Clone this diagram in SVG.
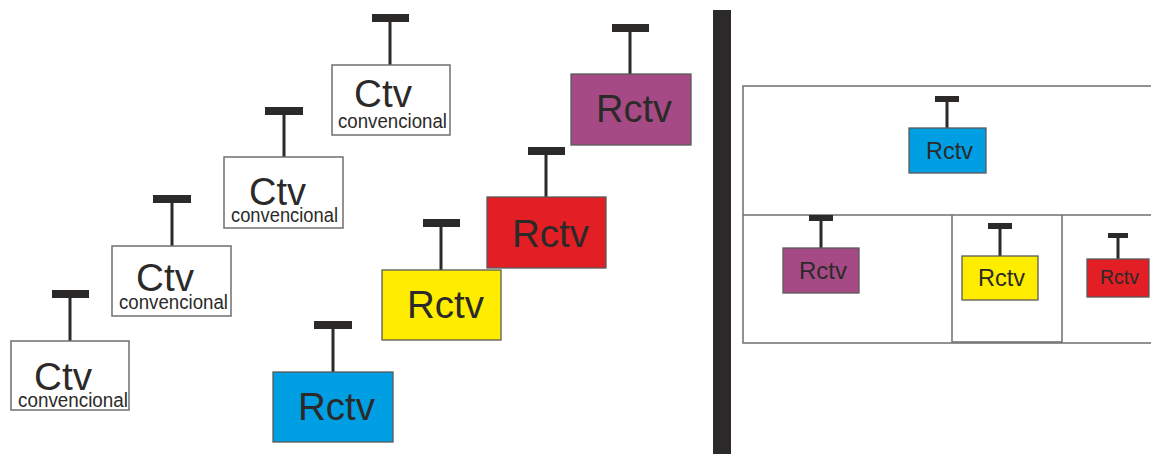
<svg xmlns="http://www.w3.org/2000/svg" width="1151" height="454" viewBox="0 0 1151 454">
<style>
.bar{fill:#2b2a29}
.stem{stroke:#2b2a29;stroke-width:3;fill:none}
.ctv{fill:#fff;stroke:#6f6f6f;stroke-width:1.5}
.rc{stroke:#5a5a5a;stroke-width:1.3}
.t{font-family:"Liberation Sans",Arial,sans-serif;fill:#2b2a29}
.big{font-size:39px}
.sm{font-size:19.5px}
.line{stroke:#6f6f6f;stroke-width:1.5;fill:none}
</style>
<rect width="1151" height="454" fill="#fff"/>
<g id="ctv1">
<rect class="bar" x="52" y="290" width="37" height="8"/>
<line class="stem" x1="70" y1="298" x2="70" y2="341"/>
<rect class="ctv" x="11" y="341" width="118" height="69"/>
<text class="t big" x="34" y="390" textLength="58" lengthAdjust="spacingAndGlyphs">Ctv</text>
<text class="t sm" x="18" y="407" textLength="110" lengthAdjust="spacingAndGlyphs">convencional</text>
</g>
<g id="ctv2">
<rect class="bar" x="153" y="195" width="38" height="8"/>
<line class="stem" x1="172" y1="203" x2="172" y2="246"/>
<rect class="ctv" x="112" y="246" width="119" height="70"/>
<text class="t big" x="136" y="291" textLength="58" lengthAdjust="spacingAndGlyphs">Ctv</text>
<text class="t sm" x="119" y="309" textLength="109" lengthAdjust="spacingAndGlyphs">convencional</text>
</g>
<g id="ctv3">
<rect class="bar" x="265" y="107" width="38" height="8"/>
<line class="stem" x1="284" y1="115" x2="284" y2="157"/>
<rect class="ctv" x="224" y="157" width="119" height="71"/>
<text class="t big" x="249" y="205" textLength="57" lengthAdjust="spacingAndGlyphs">Ctv</text>
<text class="t sm" x="231" y="222" textLength="107" lengthAdjust="spacingAndGlyphs">convencional</text>
</g>
<g id="ctv4">
<rect class="bar" x="372" y="14" width="37" height="8"/>
<line class="stem" x1="390" y1="22" x2="390" y2="65"/>
<rect class="ctv" x="332" y="65" width="118" height="70"/>
<text class="t big" x="354" y="107" textLength="58" lengthAdjust="spacingAndGlyphs">Ctv</text>
<text class="t sm" x="338" y="128" textLength="109" lengthAdjust="spacingAndGlyphs">convencional</text>
</g>
<g id="rctv-blue">
<rect class="bar" x="314" y="321" width="38" height="8"/>
<line class="stem" x1="333" y1="329" x2="333" y2="372"/>
<rect class="rc" x="273" y="372" width="120" height="70" fill="#009fe3"/>
<text class="t" x="298" y="420" font-size="39" textLength="77" lengthAdjust="spacingAndGlyphs">Rctv</text>
</g>
<g id="rctv-yellow">
<rect class="bar" x="423" y="219" width="37" height="8"/>
<line class="stem" x1="441" y1="227" x2="441" y2="270"/>
<rect class="rc" x="382" y="270" width="119" height="70" fill="#ffed00"/>
<text class="t" x="407" y="318" font-size="39" textLength="77" lengthAdjust="spacingAndGlyphs">Rctv</text>
</g>
<g id="rctv-red">
<rect class="bar" x="528" y="147" width="37" height="8"/>
<line class="stem" x1="546" y1="155" x2="546" y2="197"/>
<rect class="rc" x="487" y="197" width="119" height="71" fill="#e31e24"/>
<text class="t" x="512" y="247" font-size="39" textLength="77" lengthAdjust="spacingAndGlyphs">Rctv</text>
</g>
<g id="rctv-purple">
<rect class="bar" x="612" y="24" width="37" height="8"/>
<line class="stem" x1="630" y1="32" x2="630" y2="74"/>
<rect class="rc" x="571" y="74" width="120" height="71" fill="#a64a86"/>
<text class="t" x="596" y="122" font-size="39" textLength="76" lengthAdjust="spacingAndGlyphs">Rctv</text>
</g>
<g id="divider">
<rect x="713" y="10" width="18" height="444" fill="#2b2a29"/>
</g>
<g id="panel">
<polyline class="line" points="1151,86 743,86 743,343 1151,343"/>
<line class="line" x1="743" y1="215" x2="1151" y2="215"/>
<polyline class="line" points="952,215 952,342 1062,342 1062,215"/>
</g>
<g id="s-blue">
<rect class="bar" x="935" y="96" width="24" height="6"/>
<line class="stem" x1="947" y1="102" x2="947" y2="128"/>
<rect class="rc" x="909" y="128" width="77" height="45" fill="#009fe3"/>
<text class="t" x="926" y="159" font-size="24" textLength="47" lengthAdjust="spacingAndGlyphs">Rctv</text>
</g>
<g id="s-purple">
<rect class="bar" x="809" y="215" width="24" height="6"/>
<line class="stem" x1="821" y1="221" x2="821" y2="248"/>
<rect class="rc" x="783" y="248" width="76" height="45" fill="#a64a86"/>
<text class="t" x="799" y="279" font-size="24" textLength="48" lengthAdjust="spacingAndGlyphs">Rctv</text>
</g>
<g id="s-yellow">
<rect class="bar" x="988" y="223" width="24" height="6"/>
<line class="stem" x1="1000" y1="229" x2="1000" y2="256"/>
<rect class="rc" x="962" y="256" width="76" height="44" fill="#ffed00"/>
<text class="t" x="978" y="286" font-size="24" textLength="47" lengthAdjust="spacingAndGlyphs">Rctv</text>
</g>
<g id="s-red">
<rect class="bar" x="1108" y="233" width="20" height="5"/>
<line class="stem" x1="1118" y1="238" x2="1118" y2="259"/>
<rect class="rc" x="1087" y="259" width="62" height="38" fill="#e31e24"/>
<text class="t" x="1100" y="284" font-size="20" textLength="39" lengthAdjust="spacingAndGlyphs">Rctv</text>
</g>
</svg>
